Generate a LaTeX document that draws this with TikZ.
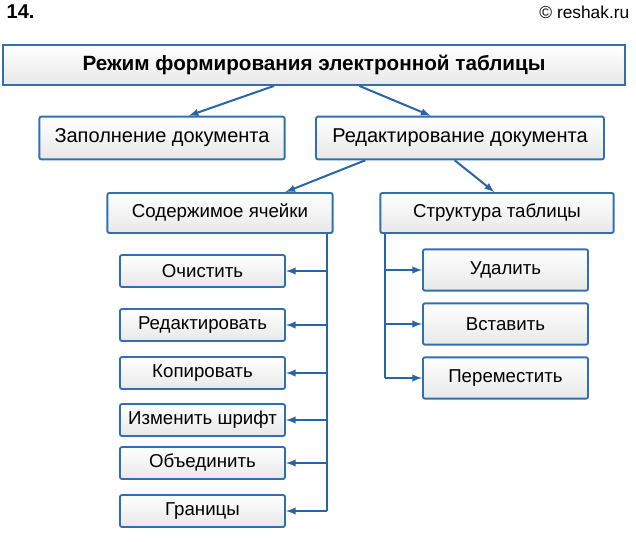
\documentclass[tikz,border=0pt]{standalone}
\usepackage{fontspec}
\setmainfont{Liberation Sans}
\usetikzlibrary{positioning}
\definecolor{frame}{RGB}{50,110,180}
\definecolor{wire}{RGB}{40,100,170}
\begin{document}
\begin{tikzpicture}[x=0.75pt,y=-0.75pt,>=latex]
    \tikzset{
        box/.style={rectangle, draw=frame, line width=1.4pt, top color=white, bottom color=gray!18, rounded corners=1.5pt, font=\fontsize{14}{16}\selectfont, inner sep=0pt},
        leaf/.style={box, minimum width=123.75pt, minimum height=24pt},
        link/.style={->, wire, line width=1.5pt}
    }
    \useasboundingbox (0,0) rectangle (636,542);

    % Header texts
    \node[font=\bfseries\fontsize{15}{17}\selectfont, anchor=west] (num) at (2,12) {14.};
    \node[font=\fontsize{13}{15}\selectfont, anchor=east] (site) at (634,12) {© reshak.ru};

    % Upper levels
    \node[box, rectangle, rounded corners=0pt, minimum width=467pt, minimum height=30pt, font=\bfseries\fontsize{15.5}{17}\selectfont] (mode) at (314,65) {Режим формирования электронной таблицы};
    \node[box, minimum width=184pt, minimum height=32pt, font=\fontsize{15}{17}\selectfont] (fill) at (162,138) {Заполнение документа};
    \node[box, minimum width=216pt, minimum height=32pt, font=\fontsize{15}{17}\selectfont] (edit) at (460,138) {Редактирование документа};
    \node[box, minimum width=169pt, minimum height=30pt] (cell) at (220,213) {Содержимое ячейки};
    \node[box, minimum width=175pt, minimum height=30pt] (struct) at (497,213) {Структура таблицы};

    % Cell operations
    \node[leaf] (clear) at (202.5,271) {Очистить};
    \node[leaf] (redo) at (202.5,325) {Редактировать};
    \node[leaf] (copy) at (202.5,373) {Копировать};
    \node[leaf] (font) at (202.5,420) {Изменить шрифт};
    \node[leaf] (merge) at (202.5,463) {Объединить};
    \node[leaf] (border) at (202.5,511) {Границы};

    % Structure operations
    \node[leaf, minimum height=31pt] (del) at (505.5,270) {Удалить};
    \node[leaf, minimum height=31pt] (ins) at (505.5,324) {Вставить};
    \node[leaf, minimum height=31pt] (move) at (505.5,378) {Переместить};

    % Connectors
    \draw[link] ([xshift=-30pt]mode.south) -- ([xshift=20pt]fill.north);
    \draw[link] ([xshift=34pt]mode.south) -- ([xshift=-22pt]edit.north);
    \draw[link] ([xshift=-71pt]edit.south) -- ([xshift=49pt]cell.north);
    \draw[link] ([xshift=-4pt]edit.south) -- ([xshift=-2pt]struct.north);

    \coordinate (cbus) at ([xshift=-5pt]cell.south east);
    \draw[wire, line width=1.5pt] (cbus) -- (cbus |- border.east);
    \foreach \leafname in {clear,redo,copy,font,merge,border}
        \draw[link] (cbus |- \leafname.east) -- (\leafname.east);

    \coordinate (sbus) at ([xshift=4pt]struct.south west);
    \draw[wire, line width=1.5pt] (sbus) -- (sbus |- move.west);
    \foreach \leafname in {del,ins,move}
        \draw[link] (sbus |- \leafname.west) -- (\leafname.west);
\end{tikzpicture}
\end{document}
